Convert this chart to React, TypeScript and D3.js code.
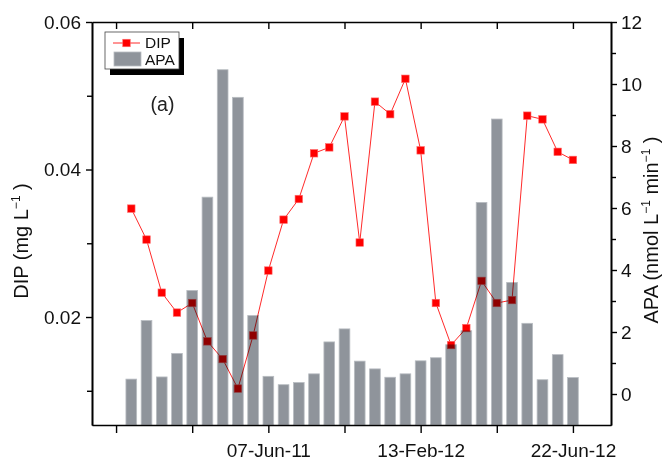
import React, { useRef, useEffect } from 'react';
import * as d3 from 'd3';

// DIP (mg/L) and APA (nmol/L/min) per sampling date, left to right
const dipValues = [0.0347, 0.0305, 0.0233, 0.0206, 0.0219, 0.0167, 0.0143, 0.0103, 0.0175, 0.0263, 0.0332, 0.0360, 0.0422, 0.0430, 0.0472, 0.0301, 0.0492, 0.0475, 0.0523, 0.0426, 0.0219, 0.0162, 0.0185, 0.0249, 0.0219, 0.0223, 0.0473, 0.0468, 0.0424, 0.0413];
const apaValues = [0.48, 2.37, 0.55, 1.31, 3.34, 6.35, 10.46, 9.57, 2.53, 0.57, 0.30, 0.37, 0.65, 1.68, 2.10, 1.06, 0.81, 0.54, 0.65, 1.07, 1.17, 1.59, 2.04, 6.18, 8.87, 3.60, 2.28, 0.46, 1.27, 0.53];

// x ticks sit on sample positions; only some carry a date
const xTickPositions = [-1, 4, 9, 14, 19, 24, 29];
const xTickLabels = ['', '', '07-Jun-11', '', '13-Feb-12', '', '22-Jun-12'];

const dipTicks = [0.02, 0.04, 0.06];
const dipMinorTicks = [0.01, 0.03, 0.05];
const apaTicks = [0, 2, 4, 6, 8, 10, 12];
const apaMinorTicks = [1, 3, 5, 7, 9, 11];

const FONT = "'Liberation Sans', Arial, Helvetica, sans-serif";

export default function App() {
  const svgRef = useRef<SVGSVGElement>(null);
  const width = 669;
  const height = 462;

  useEffect(() => {
    if (!svgRef.current) return;
    const svg = d3.select(svgRef.current);
    svg.selectAll('*').remove();

    const left = 92, right = 611, top = 22, bottom = 425;

    const x = d3.scaleLinear().domain([-2.58, 31.5]).range([left, right]);
    const yDip = d3.scaleLinear().domain([0.00536, 0.06]).range([bottom, top]);
    const yApa = d3.scaleLinear().domain([-1, 12]).range([bottom, top]);

    const points = dipValues.map((v, i) => ({ i, v }));

    // DIP line + markers (under the bars, bars multiply on top)
    const line = d3.line<{ i: number; v: number }>()
      .x(d => x(d.i))
      .y(d => yDip(d.v));

    svg.append('path')
      .datum(points)
      .attr('fill', 'none')
      .attr('stroke', '#ff2a2a')
      .attr('stroke-width', 1)
      .attr('d', line);

    const ms = 7.5;
    svg.append('g')
      .selectAll('rect')
      .data(points)
      .enter()
      .append('rect')
      .attr('x', d => x(d.i) - ms / 2)
      .attr('y', d => yDip(d.v) - ms / 2)
      .attr('width', ms)
      .attr('height', ms)
      .attr('fill', '#ff0000')
      .attr('stroke', '#ff6b6b')
      .attr('stroke-width', 0.6);

    // APA bars
    const bw = 10.7;
    svg.append('g')
      .style('mix-blend-mode', 'multiply')
      .selectAll('rect')
      .data(apaValues)
      .enter()
      .append('rect')
      .attr('x', (_, i) => x(i) - bw / 2)
      .attr('y', d => yApa(d))
      .attr('width', bw)
      .attr('height', d => bottom - yApa(d))
      .attr('fill', '#8f949b')
      .attr('stroke', '#b9bdc2')
      .attr('stroke-width', 0.8);

    const styleAxis = (g: any, fontSize = 19) => {
      g.selectAll('path').attr('stroke', '#000').attr('stroke-width', 1.6);
      g.selectAll('line').attr('stroke', '#000').attr('stroke-width', 1.4);
      g.selectAll('text')
        .attr('fill', '#111')
        .style('font-family', FONT)
        .style('font-size', `${fontSize}px`);
    };

    // bottom axis
    const gBottom = svg.append('g')
      .attr('transform', `translate(0,${bottom})`)
      .call(
        d3.axisBottom(x)
          .tickValues(xTickPositions)
          .tickFormat((_, k) => xTickLabels[k])
          .tickSize(8)
          .tickSizeOuter(0)
          .tickPadding(11)
      );
    styleAxis(gBottom);

    // top axis, ticks pointing inside
    const gTop = svg.append('g')
      .attr('transform', `translate(0,${top})`)
      .call(
        d3.axisBottom(x)
          .tickValues(xTickPositions)
          .tickFormat(() => '')
          .tickSize(7)
          .tickSizeOuter(0)
      );
    styleAxis(gTop);

    // left axis (DIP)
    const gLeft = svg.append('g')
      .attr('transform', `translate(${left},0)`)
      .call(
        d3.axisLeft(yDip)
          .tickValues(dipTicks)
          .tickFormat(d3.format('.2f'))
          .tickSize(6)
          .tickSizeOuter(0)
          .tickPadding(5)
      );
    styleAxis(gLeft);
    const gLeftMinor = svg.append('g')
      .attr('transform', `translate(${left},0)`)
      .call(d3.axisLeft(yDip).tickValues(dipMinorTicks).tickFormat(() => '').tickSize(5).tickSizeOuter(0));
    styleAxis(gLeftMinor);

    // right axis (APA)
    const gRight = svg.append('g')
      .attr('transform', `translate(${right},0)`)
      .call(
        d3.axisRight(yApa)
          .tickValues(apaTicks)
          .tickFormat(d3.format('d'))
          .tickSize(6)
          .tickSizeOuter(0)
          .tickPadding(4)
      );
    styleAxis(gRight);
    const gRightMinor = svg.append('g')
      .attr('transform', `translate(${right},0)`)
      .call(d3.axisRight(yApa).tickValues(apaMinorTicks).tickFormat(() => '').tickSize(5).tickSizeOuter(0));
    styleAxis(gRightMinor);

    // axis titles
    const leftTitle = svg.append('text')
      .attr('transform', `translate(28,241) rotate(-90)`)
      .attr('text-anchor', 'middle')
      .attr('fill', '#111')
      .style('font-family', FONT)
      .style('font-size', '20px');
    leftTitle.append('tspan').text('DIP (mg L');
    leftTitle.append('tspan').attr('dy', -8).style('font-size', '12px').text('−1');
    leftTitle.append('tspan').attr('dy', 8).text(' )');

    const rightTitle = svg.append('text')
      .attr('transform', `translate(658,230) rotate(-90)`)
      .attr('text-anchor', 'middle')
      .attr('fill', '#111')
      .style('font-family', FONT)
      .style('font-size', '20px');
    rightTitle.append('tspan').text('APA (nmol L');
    rightTitle.append('tspan').attr('dy', -8).style('font-size', '12px').text('−1');
    rightTitle.append('tspan').attr('dy', 8).text('  min');
    rightTitle.append('tspan').attr('dy', -8).style('font-size', '12px').text('−1');
    rightTitle.append('tspan').attr('dy', 8).text(' )');

    // panel label
    svg.append('text')
      .attr('x', 162.5)
      .attr('y', 111)
      .attr('text-anchor', 'middle')
      .attr('fill', '#222')
      .style('font-family', FONT)
      .style('font-size', '19.5px')
      .text('(a)');

    // legend
    const lg = svg.append('g');
    lg.append('rect').attr('x', 110).attr('y', 38).attr('width', 74).attr('height', 37).attr('fill', '#000');
    lg.append('rect').attr('x', 105).attr('y', 32).attr('width', 74).attr('height', 37)
      .attr('fill', '#fff').attr('stroke', '#444').attr('stroke-width', 0.8);
    lg.append('line').attr('x1', 113).attr('x2', 140).attr('y1', 43).attr('y2', 43)
      .attr('stroke', '#ff2a2a').attr('stroke-width', 1);
    lg.append('rect').attr('x', 126.5 - ms / 2).attr('y', 43 - ms / 2).attr('width', ms).attr('height', ms)
      .attr('fill', '#ff0000').attr('stroke', '#ff6b6b').attr('stroke-width', 0.6);
    lg.append('rect').attr('x', 114).attr('y', 52).attr('width', 27).attr('height', 14)
      .attr('fill', '#8f949b').attr('stroke', '#b9bdc2').attr('stroke-width', 0.8);
    lg.append('text').attr('x', 145).attr('y', 47.5).attr('fill', '#111')
      .style('font-family', FONT).style('font-size', '15.5px').text('DIP');
    lg.append('text').attr('x', 145).attr('y', 64.5).attr('fill', '#111')
      .style('font-family', FONT).style('font-size', '15.5px').text('APA');
  }, []);

  return (
    <div style={{ position: 'absolute', left: 0, top: 0, background: '#fff' }}>
      <svg ref={svgRef} width={width} height={height} style={{ display: 'block' }} />
    </div>
  );
}
